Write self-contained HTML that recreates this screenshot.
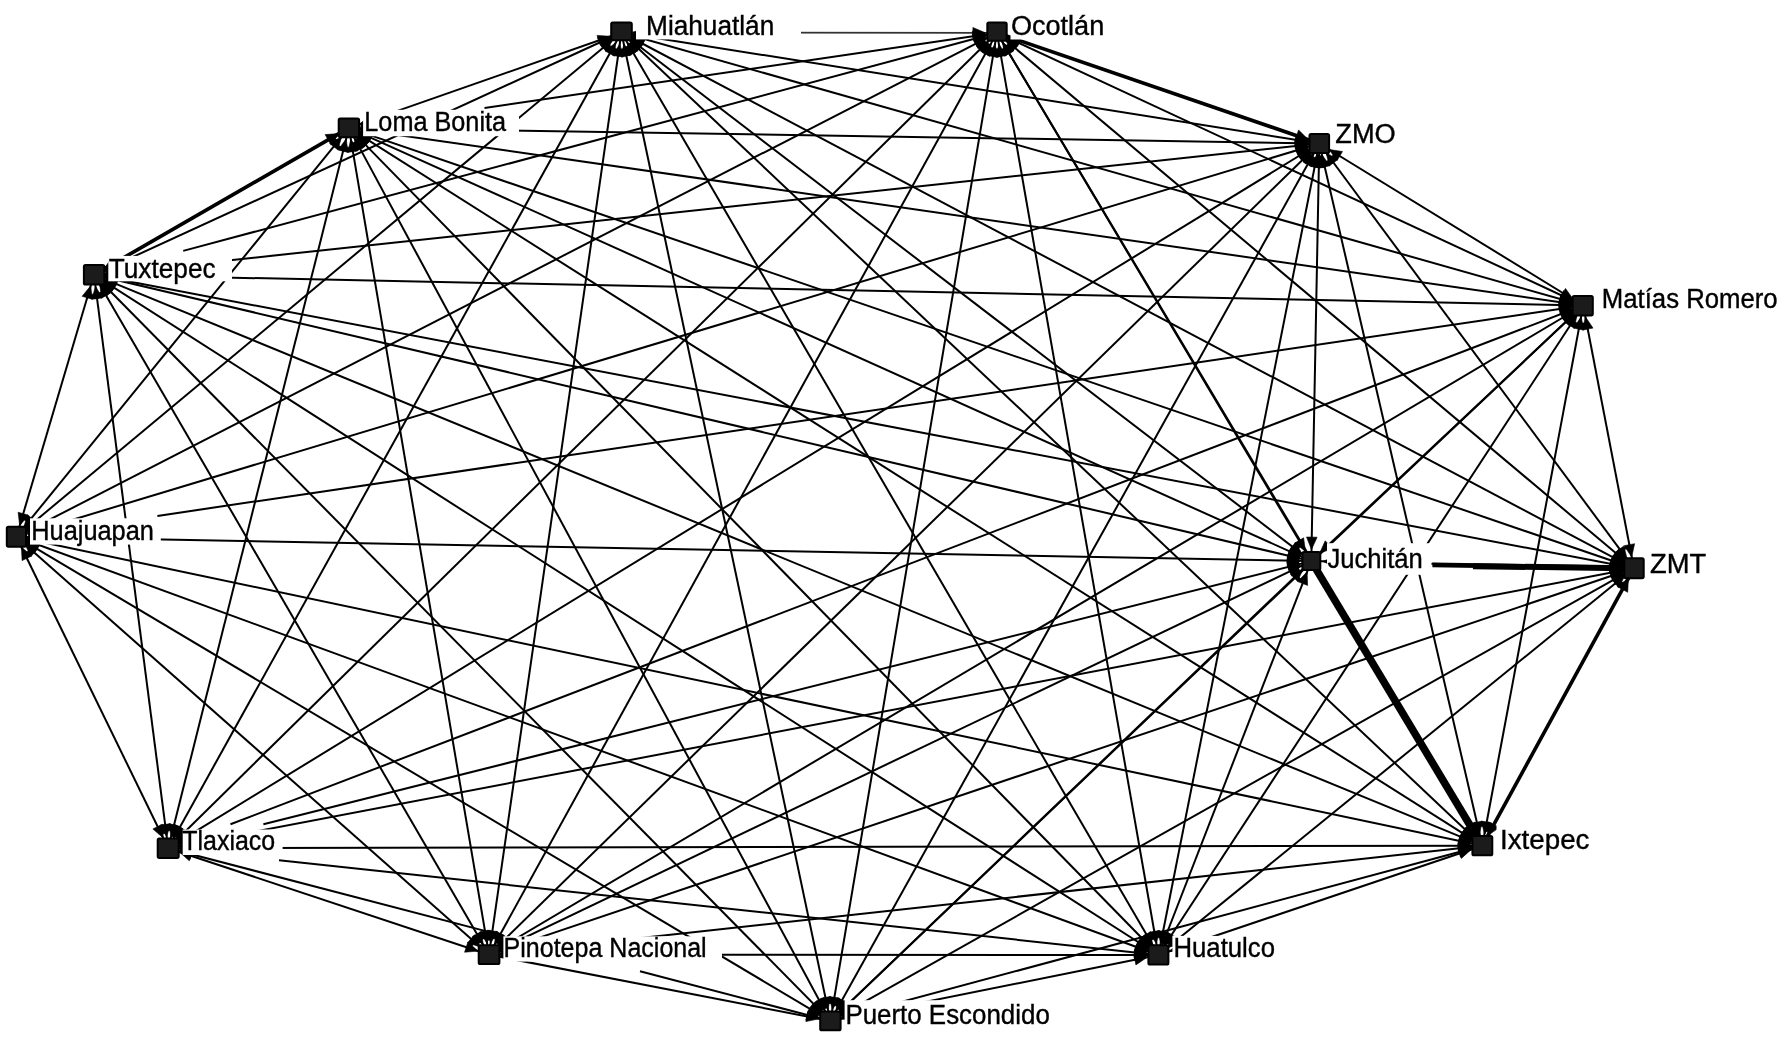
<!DOCTYPE html>
<html lang="es"><head><meta charset="utf-8"><title>Red</title>
<style>
html,body{margin:0;padding:0;background:#fff;}
body{width:1778px;height:1040px;overflow:hidden;}
svg{display:block;will-change:transform;}
text{stroke:#000;stroke-width:0.4px;font-family:"Liberation Sans",Arial,Helvetica,sans-serif;font-size:28.4px;fill:#000;}
.e{stroke:#000;stroke-width:2.0;stroke-linecap:butt;fill:none;}
.a{fill:#000;stroke:#000;stroke-width:0.6;stroke-linejoin:miter;}
.b{fill:#fff;}
.n{fill:#1b1b1b;stroke:#000;stroke-width:2;}
</style></head><body>
<svg width="1778" height="1040" viewBox="0 0 1778 1040">
<rect x="0" y="0" width="1778" height="1040" fill="#fff"/>

<g id="edges">
<line class="e" x1="621.4" y1="32.5" x2="996.9" y2="32.8" style="stroke:#333;stroke-width:1.8"/>
<line class="e" x1="621.4" y1="32.5" x2="1319.3" y2="143.5"/>
<line class="e" x1="621.4" y1="32.5" x2="1583.2" y2="305.5"/>
<line class="e" x1="621.4" y1="32.5" x2="1633.9" y2="568.3"/>
<line class="e" x1="621.4" y1="32.5" x2="1482.3" y2="845.7"/>
<line class="e" x1="621.4" y1="32.5" x2="1158.4" y2="955.0"/>
<line class="e" x1="621.4" y1="32.5" x2="830.4" y2="1021.0"/>
<line class="e" x1="621.4" y1="32.5" x2="489.0" y2="954.7"/>
<line class="e" x1="621.4" y1="32.5" x2="168.2" y2="848.2"/>
<line class="e" x1="621.4" y1="32.5" x2="16.4" y2="536.7"/>
<line class="e" x1="621.4" y1="32.5" x2="94.0" y2="274.8"/>
<line class="e" x1="621.4" y1="32.5" x2="348.9" y2="127.9"/>
<line class="e" x1="621.4" y1="32.5" x2="1311.3" y2="561.1"/>
<line class="e" x1="996.9" y1="32.8" x2="1319.3" y2="143.5" style="stroke-width:3.7"/>
<line class="e" x1="996.9" y1="32.8" x2="1583.2" y2="305.5"/>
<line class="e" x1="996.9" y1="32.8" x2="1633.9" y2="568.3"/>
<line class="e" x1="996.9" y1="32.8" x2="1482.3" y2="845.7"/>
<line class="e" x1="996.9" y1="32.8" x2="1158.4" y2="955.0"/>
<line class="e" x1="996.9" y1="32.8" x2="830.4" y2="1021.0"/>
<line class="e" x1="996.9" y1="32.8" x2="489.0" y2="954.7"/>
<line class="e" x1="996.9" y1="32.8" x2="168.2" y2="848.2"/>
<line class="e" x1="996.9" y1="32.8" x2="16.4" y2="536.7"/>
<line class="e" x1="996.9" y1="32.8" x2="183.2" y2="250.9"/>
<line class="e" x1="996.9" y1="32.8" x2="484.5" y2="108.0"/>
<line class="e" x1="996.9" y1="32.8" x2="1311.3" y2="561.1"/>
<line class="e" x1="1319.3" y1="143.5" x2="1583.2" y2="305.5"/>
<line class="e" x1="1319.3" y1="143.5" x2="1633.9" y2="568.3"/>
<line class="e" x1="1319.3" y1="143.5" x2="1482.3" y2="845.7"/>
<line class="e" x1="1319.3" y1="143.5" x2="1158.4" y2="955.0"/>
<line class="e" x1="1319.3" y1="143.5" x2="830.4" y2="1021.0"/>
<line class="e" x1="1319.3" y1="143.5" x2="489.0" y2="954.7"/>
<line class="e" x1="1319.3" y1="143.5" x2="168.2" y2="848.2"/>
<line class="e" x1="1319.3" y1="143.5" x2="16.4" y2="536.7"/>
<line class="e" x1="1319.3" y1="143.5" x2="94.0" y2="274.8"/>
<line class="e" x1="1319.3" y1="143.5" x2="348.9" y2="127.9"/>
<line class="e" x1="1319.3" y1="143.5" x2="1311.3" y2="561.1"/>
<line class="e" x1="1583.2" y1="305.5" x2="1633.9" y2="568.3"/>
<line class="e" x1="1583.2" y1="305.5" x2="1482.3" y2="845.7"/>
<line class="e" x1="1583.2" y1="305.5" x2="1158.4" y2="955.0"/>
<polyline class="e" points="830.4,1021.0 1311.85,561.68 1583.2,305.5"/>
<line class="e" x1="1583.2" y1="305.5" x2="489.0" y2="954.7"/>
<line class="e" x1="1583.2" y1="305.5" x2="230.5" y2="824.3"/>
<line class="e" x1="1583.2" y1="305.5" x2="157.4" y2="515.9"/>
<line class="e" x1="1583.2" y1="305.5" x2="94.0" y2="274.8"/>
<line class="e" x1="1583.2" y1="305.5" x2="348.9" y2="127.9"/>
<line class="e" x1="1583.2" y1="305.5" x2="1311.3" y2="561.1"/>
<line class="e" x1="1633.9" y1="568.3" x2="1482.3" y2="845.7" style="stroke-width:3.6"/>
<line class="e" x1="1633.9" y1="568.3" x2="1158.4" y2="955.0"/>
<line class="e" x1="1633.9" y1="568.3" x2="830.4" y2="1021.0"/>
<line class="e" x1="1633.9" y1="568.3" x2="489.0" y2="954.7"/>
<line class="e" x1="1633.9" y1="568.3" x2="168.2" y2="848.2"/>
<line class="e" x1="1633.9" y1="568.3" x2="94.0" y2="274.8"/>
<line class="e" x1="1633.9" y1="568.3" x2="348.9" y2="127.9"/>
<line class="e" x1="1633.9" y1="568.3" x2="1311.3" y2="561.1"/>
<line class="e" x1="1482.3" y1="845.7" x2="1158.4" y2="955.0"/>
<line class="e" x1="1482.3" y1="845.7" x2="830.4" y2="1021.0"/>
<line class="e" x1="1482.3" y1="845.7" x2="489.0" y2="954.7"/>
<line class="e" x1="1482.3" y1="845.7" x2="168.2" y2="848.2"/>
<line class="e" x1="1482.3" y1="845.7" x2="16.4" y2="536.7"/>
<line class="e" x1="1482.3" y1="845.7" x2="94.0" y2="274.8"/>
<line class="e" x1="1482.3" y1="845.7" x2="348.9" y2="127.9"/>
<line class="e" x1="1482.3" y1="845.7" x2="1311.3" y2="561.1" style="stroke-width:7.6"/>
<line class="e" x1="1158.4" y1="955.0" x2="830.4" y2="1021.0"/>
<line class="e" x1="1158.4" y1="955.0" x2="489.0" y2="954.7"/>
<line class="e" x1="1158.4" y1="955.0" x2="279.0" y2="860.2"/>
<line class="e" x1="1158.4" y1="955.0" x2="16.4" y2="536.7"/>
<line class="e" x1="1158.4" y1="955.0" x2="94.0" y2="274.8"/>
<line class="e" x1="1158.4" y1="955.0" x2="348.9" y2="127.9"/>
<line class="e" x1="1158.4" y1="955.0" x2="1311.3" y2="561.1"/>
<line class="e" x1="830.4" y1="1021.0" x2="489.0" y2="954.7"/>
<line class="e" x1="830.4" y1="1021.0" x2="640.0" y2="971.3"/>
<line class="e" x1="503.0" y1="935.6" x2="168.2" y2="848.2"/>
<line class="e" x1="830.4" y1="1021.0" x2="16.4" y2="536.7"/>
<line class="e" x1="830.4" y1="1021.0" x2="94.0" y2="274.8"/>
<line class="e" x1="830.4" y1="1021.0" x2="348.9" y2="127.9"/>
<line class="e" x1="830.4" y1="1021.0" x2="1311.3" y2="561.1"/>
<line class="e" x1="489.0" y1="954.7" x2="168.2" y2="848.2"/>
<line class="e" x1="489.0" y1="954.7" x2="16.4" y2="536.7"/>
<line class="e" x1="489.0" y1="954.7" x2="94.0" y2="274.8"/>
<line class="e" x1="489.0" y1="954.7" x2="348.9" y2="127.9"/>
<line class="e" x1="489.0" y1="954.7" x2="1311.3" y2="561.1"/>
<line class="e" x1="168.2" y1="848.2" x2="16.4" y2="536.7"/>
<line class="e" x1="168.2" y1="848.2" x2="94.0" y2="274.8"/>
<line class="e" x1="168.2" y1="848.2" x2="348.9" y2="127.9"/>
<line class="e" x1="263.4" y1="824.3" x2="1311.3" y2="561.1"/>
<line class="e" x1="16.4" y1="536.7" x2="94.0" y2="274.8"/>
<line class="e" x1="16.4" y1="536.7" x2="348.9" y2="127.9"/>
<line class="e" x1="16.4" y1="536.7" x2="1311.3" y2="561.1"/>
<line class="e" x1="94.0" y1="274.8" x2="348.9" y2="127.9" style="stroke-width:3.7"/>
<line class="e" x1="94.0" y1="274.8" x2="1311.3" y2="561.1"/>
<line class="e" x1="348.9" y1="127.9" x2="1311.3" y2="561.1"/>
<line class="e" x1="1432.4" y1="564.9" x2="1625" y2="568.0" style="stroke-width:4.9"/>
<line class="e" x1="1473" y1="566.2" x2="1625" y2="568.2" style="stroke-width:6.0"/>
</g>
<g id="arrows">
<polygon class="a" points="985.4,32.8 972.9,27.5 972.9,38.1"/>
<polygon class="a" points="1307.9,141.7 1296.4,134.5 1294.8,145.0"/>
<polygon class="a" points="1572.1,302.4 1561.6,293.8 1558.7,304.0"/>
<polygon class="a" points="1623.7,562.9 1615.2,552.4 1610.2,561.8"/>
<polygon class="a" points="1473.9,837.8 1468.5,825.4 1461.2,833.1"/>
<polygon class="a" points="1152.6,945.1 1150.9,931.6 1141.7,936.9"/>
<polygon class="a" points="828.0,1009.7 830.6,996.4 820.3,998.6"/>
<polygon class="a" points="490.6,943.3 497.7,931.7 487.2,930.2"/>
<polygon class="a" points="173.8,838.1 184.5,829.8 175.2,824.6"/>
<polygon class="a" points="25.2,529.3 38.2,525.4 31.4,517.3"/>
<polygon class="a" points="104.4,270.0 118.0,269.6 113.6,260.0"/>
<polygon class="a" points="359.8,124.1 373.3,125.0 369.8,115.0"/>
<polygon class="a" points="1302.2,554.1 1295.5,542.3 1289.0,550.7"/>
<polygon class="a" points="632.9,32.5 645.4,37.8 645.4,27.2"/>
<polygon class="a" points="1308.4,139.8 1298.6,129.9 1294.6,141.5"/>
<polygon class="a" points="1572.8,300.7 1563.7,290.6 1559.2,300.2"/>
<polygon class="a" points="1625.1,560.9 1618.9,548.8 1612.1,556.9"/>
<polygon class="a" points="1476.4,835.8 1474.5,822.4 1465.4,827.8"/>
<polygon class="a" points="1156.4,943.7 1159.5,930.4 1149.0,932.3"/>
<polygon class="a" points="832.3,1009.7 839.6,998.2 829.2,996.5"/>
<polygon class="a" points="494.5,944.6 505.2,936.2 495.9,931.1"/>
<polygon class="a" points="176.4,840.1 189.0,835.1 181.6,827.6"/>
<polygon class="a" points="26.6,531.4 40.2,530.4 35.3,521.0"/>
<polygon class="a" points="105.1,271.8 118.6,273.7 115.8,263.5"/>
<polygon class="a" points="360.3,126.2 373.4,129.7 371.9,119.2"/>
<polygon class="a" points="1305.4,551.2 1303.6,537.8 1294.5,543.2"/>
<polygon class="a" points="632.8,34.3 644.3,41.5 645.9,31.0"/>
<polygon class="a" points="1007.8,36.5 1017.6,46.4 1021.6,34.8"/>
<polygon class="a" points="1573.4,299.5 1565.5,288.4 1560.0,297.5"/>
<polygon class="a" points="1627.1,559.1 1623.9,545.9 1615.4,552.2"/>
<polygon class="a" points="1479.7,834.5 1482.0,821.1 1471.7,823.5"/>
<polygon class="a" points="1160.6,943.7 1168.3,932.5 1157.9,930.4"/>
<polygon class="a" points="836.0,1011.0 846.7,1002.6 837.5,997.5"/>
<polygon class="a" points="497.2,946.7 509.9,941.7 502.5,934.1"/>
<polygon class="a" points="178.0,842.2 191.4,840.2 185.9,831.1"/>
<polygon class="a" points="27.4,533.4 40.9,534.8 37.8,524.7"/>
<polygon class="a" points="105.4,273.6 118.4,277.5 117.3,267.0"/>
<polygon class="a" points="360.4,128.1 372.8,133.6 373.0,123.0"/>
<polygon class="a" points="1311.5,549.6 1317.1,537.2 1306.5,537.0"/>
<polygon class="a" points="632.5,35.6 643.0,44.2 645.9,34.0"/>
<polygon class="a" points="1007.3,37.6 1016.4,47.7 1020.9,38.1"/>
<polygon class="a" points="1329.1,149.5 1337.0,160.6 1342.5,151.5"/>
<polygon class="a" points="1631.7,557.0 1634.6,543.7 1624.1,545.7"/>
<polygon class="a" points="1484.4,834.4 1491.9,823.1 1481.5,821.1"/>
<polygon class="a" points="1164.7,945.4 1176.0,937.8 1167.1,932.0"/>
<polygon class="a" points="838.7,1013.1 851.4,1008.3 844.1,1000.6"/>
<polygon class="a" points="498.9,948.8 512.3,947.0 506.9,937.9"/>
<polygon class="a" points="178.9,844.1 192.5,844.6 188.7,834.7"/>
<polygon class="a" points="27.8,535.0 40.9,538.4 39.4,528.0"/>
<polygon class="a" points="105.5,275.0 117.9,280.6 118.1,270.0"/>
<polygon class="a" points="360.3,129.5 371.9,136.6 373.4,126.1"/>
<polygon class="a" points="1319.7,553.2 1332.4,548.5 1325.2,540.8"/>
<polygon class="a" points="631.6,37.9 640.1,48.4 645.1,39.0"/>
<polygon class="a" points="1005.7,40.2 1011.9,52.3 1018.7,44.2"/>
<polygon class="a" points="1326.1,152.7 1329.3,165.9 1337.8,159.6"/>
<polygon class="a" points="1585.4,316.8 1582.5,330.1 1593.0,328.1"/>
<polygon class="a" points="1487.8,835.6 1499.2,827.6 1488.5,821.7"/>
<polygon class="a" points="1167.3,947.7 1180.4,944.0 1173.7,935.7"/>
<polygon class="a" points="840.4,1015.4 853.9,1013.8 848.7,1004.6"/>
<polygon class="a" points="499.9,951.0 513.4,952.0 510.0,942.0"/>
<polygon class="a" points="179.5,846.0 192.8,848.9 190.8,838.5"/>
<polygon class="a" points="27.9,536.9 40.3,542.5 40.5,531.9"/>
<polygon class="a" points="105.3,277.0 116.6,284.5 118.6,274.1"/>
<polygon class="a" points="359.8,131.6 369.9,140.7 373.3,130.7"/>
<polygon class="a" points="1322.8,561.4 1335.2,566.9 1335.4,556.3"/>
<polygon class="a" points="629.8,40.4 635.2,52.8 642.5,45.1"/>
<polygon class="a" points="1002.8,42.7 1004.7,56.1 1013.8,50.7"/>
<polygon class="a" points="1321.9,154.7 1319.6,168.1 1329.9,165.7"/>
<polygon class="a" points="1581.1,316.8 1573.6,328.1 1584.0,330.1"/>
<polygon class="a" points="1628.4,578.4 1617.0,586.4 1627.7,592.3"/>
<polygon class="a" points="1169.3,951.3 1182.8,952.3 1179.4,942.3"/>
<polygon class="a" points="841.5,1018.0 855.0,1019.9 852.2,1009.6"/>
<polygon class="a" points="500.4,953.4 513.4,957.4 512.3,946.8"/>
<polygon class="a" points="179.7,848.2 192.2,853.5 192.2,842.9"/>
<polygon class="a" points="27.7,539.1 38.8,546.8 41.0,536.5"/>
<polygon class="a" points="104.6,279.2 114.2,288.8 118.2,279.0"/>
<polygon class="a" points="358.6,134.1 366.3,145.2 372.0,136.3"/>
<polygon class="a" points="627.2,42.4 628.9,55.9 638.1,50.6"/>
<polygon class="a" points="998.9,44.1 995.8,57.4 1006.3,55.5"/>
<polygon class="a" points="1317.1,154.8 1309.4,166.0 1319.8,168.1"/>
<polygon class="a" points="1576.9,315.1 1565.6,322.7 1574.5,328.5"/>
<polygon class="a" points="1625.0,575.6 1611.9,579.3 1618.6,587.6"/>
<polygon class="a" points="1471.4,849.4 1457.9,848.4 1461.3,858.4"/>
<polygon class="a" points="841.7,1018.7 855.0,1021.5 852.9,1011.1"/>
<polygon class="a" points="500.5,954.7 513.0,960.0 513.0,949.4"/>
<polygon class="a" points="179.6,849.4 191.5,856.0 192.6,845.5"/>
<polygon class="a" points="27.2,540.7 37.1,549.9 40.8,540.0"/>
<polygon class="a" points="103.7,281.0 111.4,292.2 117.1,283.3"/>
<polygon class="a" points="356.9,136.1 361.9,148.8 369.5,141.3"/>
<polygon class="a" points="1307.1,571.8 1297.7,581.6 1307.6,585.4"/>
<polygon class="a" points="623.8,43.8 621.2,57.1 631.5,54.9"/>
<polygon class="a" points="995.0,44.1 987.7,55.6 998.1,57.3"/>
<polygon class="a" points="1313.7,153.5 1303.0,161.9 1312.2,167.0"/>
<polygon class="a" points="1574.9,313.4 1562.2,318.2 1569.5,325.9"/>
<polygon class="a" points="1623.9,573.9 1610.4,575.5 1615.6,584.7"/>
<polygon class="a" points="1471.2,848.7 1457.7,846.8 1460.5,857.1"/>
<polygon class="a" points="1147.1,957.3 1133.8,954.5 1135.9,964.9"/>
<polygon class="a" points="179.3,851.1 190.1,859.4 192.8,849.1"/>
<polygon class="a" points="26.3,542.6 34.3,553.5 39.7,544.4"/>
<polygon class="a" points="102.1,283.0 107.1,295.6 114.6,288.2"/>
<polygon class="a" points="354.4,138.0 355.6,151.5 365.0,146.5"/>
<polygon class="a" points="1303.0,569.0 1290.3,573.9 1297.6,581.5"/>
<polygon class="a" points="619.8,43.9 612.7,55.5 623.2,57.0"/>
<polygon class="a" points="991.4,42.9 980.7,51.3 990.0,56.4"/>
<polygon class="a" points="1311.1,151.5 1298.4,156.5 1305.8,164.1"/>
<polygon class="a" points="1573.3,311.4 1559.9,313.2 1565.3,322.3"/>
<polygon class="a" points="1623.0,572.0 1609.5,571.0 1612.9,581.0"/>
<polygon class="a" points="1470.9,847.0 1457.9,843.0 1459.0,853.6"/>
<polygon class="a" points="1146.9,955.0 1134.4,949.7 1134.4,960.3"/>
<polygon class="a" points="819.1,1018.8 807.9,1011.2 805.8,1021.6"/>
<polygon class="a" points="179.1,851.8 189.3,860.8 192.6,850.7"/>
<polygon class="a" points="25.0,544.3 30.9,556.6 37.9,548.6"/>
<polygon class="a" points="99.8,284.7 101.5,298.2 110.6,292.9"/>
<polygon class="a" points="350.8,139.2 347.7,152.4 358.1,150.7"/>
<polygon class="a" points="1300.9,566.1 1287.4,566.7 1291.9,576.2"/>
<polygon class="a" points="615.8,42.6 605.1,50.9 614.4,56.1"/>
<polygon class="a" points="988.7,40.9 976.1,45.9 983.5,53.4"/>
<polygon class="a" points="1309.5,149.5 1296.1,151.5 1301.6,160.6"/>
<polygon class="a" points="1572.5,309.6 1558.9,309.1 1562.7,319.0"/>
<polygon class="a" points="1622.6,570.5 1609.3,567.6 1611.3,578.0"/>
<polygon class="a" points="1470.8,845.7 1458.3,840.4 1458.3,851.0"/>
<polygon class="a" points="1147.0,953.8 1135.1,947.2 1134.0,957.7"/>
<polygon class="a" points="819.3,1018.1 808.5,1009.8 805.8,1020.1"/>
<polygon class="a" points="478.1,951.1 467.9,942.1 464.6,952.2"/>
<polygon class="a" points="21.4,547.0 22.1,560.6 31.7,556.0"/>
<polygon class="a" points="95.5,286.2 91.8,299.3 102.3,297.9"/>
<polygon class="a" points="346.1,139.1 337.9,149.9 348.2,152.5"/>
<polygon class="a" points="1300.1,563.9 1286.7,561.8 1289.3,572.1"/>
<polygon class="a" points="612.6,39.9 599.6,43.8 606.4,51.9"/>
<polygon class="a" points="986.7,38.1 973.1,39.1 978.0,48.5"/>
<polygon class="a" points="1308.3,146.8 1294.8,145.4 1297.9,155.5"/>
<polygon class="a" points="1571.8,307.2 1558.7,303.8 1560.2,314.2"/>
<polygon class="a" points="1622.4,568.1 1610.0,562.5 1609.8,573.1"/>
<polygon class="a" points="1471.0,843.3 1459.9,835.6 1457.7,845.9"/>
<polygon class="a" points="1147.6,951.0 1137.7,941.8 1134.0,951.7"/>
<polygon class="a" points="820.5,1015.1 812.5,1004.2 807.1,1013.3"/>
<polygon class="a" points="480.4,947.1 474.5,934.8 467.5,942.8"/>
<polygon class="a" points="163.2,837.9 162.5,824.3 152.9,828.9"/>
<polygon class="a" points="90.7,285.8 82.1,296.3 92.3,299.3"/>
<polygon class="a" points="341.6,136.8 329.6,143.2 337.9,149.9"/>
<polygon class="a" points="1299.8,560.9 1287.4,555.3 1287.2,565.9"/>
<polygon class="a" points="611.0,37.3 597.4,37.7 601.8,47.3"/>
<polygon class="a" points="985.8,35.8 972.3,33.9 975.1,44.1"/>
<polygon class="a" points="1307.9,144.7 1294.9,140.8 1296.0,151.3"/>
<polygon class="a" points="1571.7,305.3 1559.3,299.7 1559.1,310.3"/>
<polygon class="a" points="1622.6,566.1 1611.3,558.6 1609.3,569.0"/>
<polygon class="a" points="1471.7,841.3 1462.1,831.7 1458.1,841.5"/>
<polygon class="a" points="1148.7,948.8 1141.0,937.6 1135.3,946.5"/>
<polygon class="a" points="822.3,1012.8 817.3,1000.2 809.8,1007.6"/>
<polygon class="a" points="483.2,944.8 481.5,931.3 472.4,936.6"/>
<polygon class="a" points="166.7,836.8 170.4,823.7 159.9,825.1"/>
<polygon class="a" points="19.7,525.7 28.3,515.2 18.1,512.2"/>
<polygon class="a" points="338.9,133.6 325.1,134.6 331.2,145.2"/>
<polygon class="a" points="1300.1,558.5 1289.2,550.4 1286.7,560.8"/>
<polygon class="a" points="610.5,36.3 597.0,35.4 600.5,45.4"/>
<polygon class="a" points="985.5,34.5 972.4,31.0 973.9,41.5"/>
<polygon class="a" points="1307.8,143.3 1295.4,137.8 1295.2,148.4"/>
<polygon class="a" points="1571.8,303.9 1560.2,296.8 1558.7,307.3"/>
<polygon class="a" points="1623.0,564.6 1612.9,555.5 1609.5,565.5"/>
<polygon class="a" points="1472.6,839.5 1464.9,828.4 1459.2,837.3"/>
<polygon class="a" points="1150.4,946.8 1145.4,934.1 1137.8,941.6"/>
<polygon class="a" points="824.9,1010.9 823.7,997.4 814.3,1002.4"/>
<polygon class="a" points="487.1,943.4 490.2,930.2 479.8,931.9"/>
<polygon class="a" points="171.0,837.0 179.2,826.2 168.9,823.6"/>
<polygon class="a" points="23.7,527.8 35.7,521.4 27.4,514.7"/>
<polygon class="a" points="104.0,269.1 117.8,268.1 111.7,257.5"/>
<polygon class="a" points="1300.8,556.4 1291.6,546.4 1287.2,556.1"/>
<polygon class="a" points="630.5,39.5 637.2,51.3 643.7,42.9"/>
<polygon class="a" points="1002.8,42.7 1004.6,56.1 1013.7,50.7"/>
<polygon class="a" points="1319.1,155.0 1313.5,167.4 1324.1,167.6"/>
<polygon class="a" points="1574.8,313.4 1562.1,318.1 1569.3,325.8"/>
<polygon class="a" points="1622.4,568.0 1610.0,562.5 1609.8,573.1"/>
<polygon class="a" points="1476.4,835.8 1475.2,822.0 1464.7,828.3"/>
<polygon class="a" points="1162.6,944.3 1172.0,934.5 1162.1,930.7"/>
<polygon class="a" points="838.7,1013.1 851.4,1008.2 844.1,1000.6"/>
<polygon class="a" points="499.4,949.7 512.9,949.1 508.4,939.6"/>
<polygon class="a" points="179.4,845.4 192.8,847.5 190.2,837.2"/>
<polygon class="a" points="27.9,536.9 40.3,542.5 40.5,531.9"/>
<polygon class="a" points="105.2,277.4 116.1,285.5 118.6,275.1"/>
<polygon class="a" points="359.4,132.6 368.6,142.6 373.0,132.9"/>
<polygon class="a" points="633.7,32.5 645.2,32.5 644.9,36.2 633.5,34.4"/>
<polygon class="a" points="633.5,34.4 644.9,36.2 644.3,39.0 633.2,35.9"/>
<polygon class="a" points="633.2,35.9 644.3,39.0 642.4,43.6 632.3,38.3"/>
<polygon class="a" points="632.3,38.3 642.4,43.6 640.3,47.0 631.2,40.0"/>
<polygon class="a" points="631.2,40.0 640.3,47.0 638.7,48.8 630.3,40.9"/>
<polygon class="a" points="631.2,41.8 638.7,48.8 633.4,53.1 628.2,44.2"/>
<polygon class="a" points="629.0,45.5 633.4,53.1 626.3,55.8 624.5,47.3"/>
<polygon class="a" points="624.8,48.8 626.3,55.8 618.0,56.1 619.0,49.0"/>
<polygon class="a" points="618.9,49.7 618.0,56.1 609.8,53.3 613.0,47.7"/>
<polygon class="a" points="612.9,47.8 609.8,53.3 603.1,47.7 607.9,43.7"/>
<polygon class="a" points="611.9,40.4 603.1,47.7 599.8,42.4 610.1,37.7"/>
<polygon class="a" points="610.2,37.6 599.8,42.4 598.9,40.4 609.8,36.6"/>
<polygon class="a" points="1008.5,36.8 1019.4,40.5 1018.5,42.8 1008.1,38.0"/>
<polygon class="a" points="1008.1,38.0 1018.5,42.8 1015.1,48.1 1006.4,40.8"/>
<polygon class="a" points="1009.0,43.0 1015.1,48.1 1009.1,53.2 1005.0,46.4"/>
<polygon class="a" points="1003.2,43.4 1009.1,53.2 1009.1,53.3 1003.2,43.4"/>
<polygon class="a" points="1005.7,47.7 1009.1,53.3 1001.0,56.2 999.9,49.8"/>
<polygon class="a" points="999.7,48.7 1001.0,56.2 992.9,56.3 994.2,48.7"/>
<polygon class="a" points="994.2,48.5 992.9,56.3 985.4,53.6 989.2,46.8"/>
<polygon class="a" points="990.3,44.8 985.4,53.6 979.9,49.5 987.1,42.4"/>
<polygon class="a" points="986.7,42.8 979.9,49.5 975.7,43.7 984.2,39.3"/>
<polygon class="a" points="986.0,38.4 975.7,43.7 973.9,39.0 985.0,36.0"/>
<polygon class="a" points="985.0,36.0 973.9,39.0 973.4,36.3 984.7,34.6"/>
<polygon class="a" points="984.7,34.6 973.4,36.3 973.1,32.8 984.6,32.8"/>
<polygon class="a" points="1307.0,143.3 1295.5,143.1 1295.8,139.8 1307.2,141.6"/>
<polygon class="a" points="1307.2,141.6 1295.8,139.8 1296.8,135.8 1307.7,139.5"/>
<polygon class="a" points="1334.8,153.0 1339.6,156.0 1333.5,162.6 1330.2,158.2"/>
<polygon class="a" points="1330.9,159.2 1333.5,162.6 1324.7,166.7 1323.7,162.5"/>
<polygon class="a" points="1322.1,155.5 1324.7,166.7 1318.8,167.3 1319.1,155.8"/>
<polygon class="a" points="1319.1,155.8 1318.8,167.3 1314.7,166.8 1316.9,155.6"/>
<polygon class="a" points="1316.4,158.0 1314.7,166.8 1307.7,164.3 1312.1,156.4"/>
<polygon class="a" points="1312.7,155.4 1307.7,164.3 1302.3,160.1 1309.6,153.0"/>
<polygon class="a" points="1310.5,152.1 1302.3,160.1 1299.0,155.9 1308.8,149.9"/>
<polygon class="a" points="1308.8,149.9 1299.0,155.9 1296.5,150.4 1307.5,147.1"/>
<polygon class="a" points="1307.5,147.1 1296.5,150.4 1295.6,146.0 1307.1,144.8"/>
<polygon class="a" points="1307.1,144.8 1295.6,146.0 1295.5,143.1 1307.0,143.3"/>
<polygon class="a" points="1570.9,305.2 1559.4,305.0 1559.6,302.1 1571.0,303.7"/>
<polygon class="a" points="1571.0,303.7 1559.6,302.1 1560.3,299.0 1571.4,302.1"/>
<polygon class="a" points="1571.4,302.1 1560.3,299.0 1561.6,295.5 1572.0,300.3"/>
<polygon class="a" points="1572.0,300.3 1561.6,295.5 1562.9,293.0 1572.7,299.1"/>
<polygon class="a" points="1586.6,323.0 1587.7,328.9 1578.8,328.9 1579.9,323.1"/>
<polygon class="a" points="1579.7,324.0 1578.8,328.9 1570.2,325.4 1572.9,321.2"/>
<polygon class="a" points="1576.5,315.8 1570.2,325.4 1565.9,321.9 1574.3,314.0"/>
<polygon class="a" points="1574.3,314.0 1565.9,321.9 1565.9,321.8 1574.2,313.9"/>
<polygon class="a" points="1574.2,313.9 1565.9,321.8 1562.7,317.6 1572.6,311.8"/>
<polygon class="a" points="1572.6,311.8 1562.7,317.6 1561.0,314.0 1571.7,309.9"/>
<polygon class="a" points="1571.7,309.9 1561.0,314.0 1559.7,309.0 1571.0,307.3"/>
<polygon class="a" points="1571.0,307.3 1559.7,309.0 1559.4,305.0 1570.9,305.2"/>
<polygon class="a" points="1621.6,568.1 1610.1,567.8 1610.1,567.8 1621.6,568.0"/>
<polygon class="a" points="1621.6,568.0 1610.1,567.8 1610.5,563.8 1621.8,566.0"/>
<polygon class="a" points="1621.8,566.0 1610.5,563.8 1611.4,560.6 1622.3,564.3"/>
<polygon class="a" points="1622.3,564.3 1611.4,560.6 1612.9,557.2 1623.0,562.5"/>
<polygon class="a" points="1623.0,562.5 1612.9,557.2 1615.7,553.0 1624.5,560.4"/>
<polygon class="a" points="1624.5,560.4 1615.7,553.0 1619.7,549.2 1626.6,558.4"/>
<polygon class="a" points="1621.2,551.1 1619.7,549.2 1629.4,544.9 1629.9,547.3"/>
<polygon class="a" points="1625.0,584.5 1622.5,589.2 1615.4,583.3 1619.6,580.0"/>
<polygon class="a" points="1624.4,576.1 1615.4,583.3 1613.2,580.0 1623.2,574.3"/>
<polygon class="a" points="1623.2,574.3 1613.2,580.0 1611.3,575.9 1622.2,572.2"/>
<polygon class="a" points="1622.2,572.2 1611.3,575.9 1610.5,572.8 1621.8,570.6"/>
<polygon class="a" points="1621.8,570.6 1610.5,572.8 1610.1,567.8 1621.6,568.1"/>
<polygon class="a" points="1470.3,843.2 1459.0,840.8 1460.3,836.6 1470.9,841.0"/>
<polygon class="a" points="1470.9,841.0 1460.3,836.6 1462.2,833.0 1471.9,839.1"/>
<polygon class="a" points="1471.9,839.1 1462.2,833.0 1465.0,829.4 1473.4,837.3"/>
<polygon class="a" points="1473.0,836.9 1465.0,829.4 1470.0,825.3 1475.7,834.7"/>
<polygon class="a" points="1476.0,835.2 1470.0,825.3 1470.1,825.3 1476.0,835.1"/>
<polygon class="a" points="1474.8,833.1 1470.1,825.3 1476.9,822.5 1479.0,831.4"/>
<polygon class="a" points="1477.8,826.5 1476.9,822.5 1486.7,822.3 1485.9,826.3"/>
<polygon class="a" points="1485.0,831.0 1486.7,822.3 1493.7,824.8 1489.5,832.6"/>
<polygon class="a" points="1470.6,849.6 1459.7,853.3 1459.3,851.9 1470.4,848.9"/>
<polygon class="a" points="1470.4,848.9 1459.3,851.9 1458.6,848.3 1470.1,847.0"/>
<polygon class="a" points="1470.1,847.0 1458.6,848.3 1458.5,845.7 1470.0,845.7"/>
<polygon class="a" points="1470.0,845.7 1458.5,845.7 1459.0,840.8 1470.3,843.2"/>
<polygon class="a" points="1146.1,955.0 1134.6,955.0 1134.7,952.4 1146.2,953.7"/>
<polygon class="a" points="1146.2,953.7 1134.7,952.4 1136.1,946.8 1146.9,950.8"/>
<polygon class="a" points="1146.9,950.8 1136.1,946.8 1138.3,942.2 1148.0,948.4"/>
<polygon class="a" points="1148.0,948.4 1138.3,942.2 1141.8,938.0 1149.8,946.2"/>
<polygon class="a" points="1149.8,946.2 1141.8,938.0 1146.4,934.4 1152.2,944.4"/>
<polygon class="a" points="1149.9,940.5 1146.4,934.4 1154.3,931.6 1155.5,938.4"/>
<polygon class="a" points="1155.4,937.7 1154.3,931.6 1163.0,931.7 1161.8,937.8"/>
<polygon class="a" points="1160.8,942.9 1163.0,931.7 1167.0,932.8 1162.9,943.5"/>
<polygon class="a" points="1162.9,943.5 1167.0,932.8 1171.4,935.1 1165.1,944.7"/>
<polygon class="a" points="1166.4,942.8 1171.4,935.1 1176.9,940.0 1169.7,945.8"/>
<polygon class="a" points="1171.6,944.3 1176.9,940.0 1181.0,947.4 1174.5,949.6"/>
<polygon class="a" points="1146.3,957.4 1135.1,959.7 1134.6,955.0 1146.1,955.0"/>
<polygon class="a" points="818.3,1018.7 807.0,1016.5 807.4,1015.0 818.5,1017.9"/>
<polygon class="a" points="817.6,1017.7 807.4,1015.0 809.9,1008.8 819.0,1014.2"/>
<polygon class="a" points="819.8,1014.7 809.9,1008.8 813.7,1004.1 821.8,1012.2"/>
<polygon class="a" points="821.0,1011.5 813.7,1004.1 819.1,1000.1 824.0,1009.2"/>
<polygon class="a" points="824.0,1009.1 819.1,1000.1 825.5,997.7 827.6,1007.8"/>
<polygon class="a" points="826.7,1003.5 825.5,997.7 834.4,997.5 833.4,1003.4"/>
<polygon class="a" points="833.1,1005.0 834.4,997.5 842.0,1000.2 838.3,1006.8"/>
<polygon class="a" points="837.3,1008.6 842.0,1000.2 847.6,1004.6 840.6,1011.2"/>
<polygon class="a" points="839.3,1012.5 847.6,1004.6 847.7,1004.6 839.3,1012.5"/>
<polygon class="a" points="839.3,1012.5 847.7,1004.6 851.1,1009.3 841.1,1015.0"/>
<polygon class="a" points="841.1,1015.0 851.1,1009.3 853.4,1014.8 842.3,1017.8"/>
<polygon class="a" points="842.3,1017.8 853.4,1014.8 853.7,1016.3 842.5,1018.6"/>
<polygon class="a" points="470.7,948.6 466.4,947.2 471.2,938.9 474.6,941.9"/>
<polygon class="a" points="477.6,944.7 471.2,938.9 477.0,934.1 481.4,941.6"/>
<polygon class="a" points="480.4,940.0 477.0,934.1 485.0,931.2 486.2,937.9"/>
<polygon class="a" points="486.5,940.2 485.0,931.2 492.4,931.1 491.1,940.2"/>
<polygon class="a" points="491.4,937.7 492.4,931.1 500.5,933.9 497.3,939.7"/>
<polygon class="a" points="495.7,942.6 500.5,933.9 506.0,938.1 498.9,945.0"/>
<polygon class="a" points="497.8,946.1 506.0,938.1 509.5,942.6 499.6,948.4"/>
<polygon class="a" points="499.6,948.4 509.5,942.6 510.5,944.4 500.1,949.4"/>
<polygon class="a" points="500.1,949.4 510.5,944.4 511.6,947.1 500.7,950.8"/>
<polygon class="a" points="500.7,950.8 511.6,947.1 512.7,952.1 501.2,953.4"/>
<polygon class="a" points="501.2,953.4 512.7,952.1 512.8,954.7 501.3,954.7"/>
<polygon class="a" points="501.3,954.7 512.8,954.7 512.4,959.2 501.1,957.0"/>
<polygon class="a" points="161.5,834.4 157.8,826.8 165.1,824.6 166.2,832.9"/>
<polygon class="a" points="165.9,830.5 165.1,824.6 174.0,825.1 172.5,830.9"/>
<polygon class="a" points="171.2,836.3 174.0,825.1 179.8,827.4 174.2,837.4"/>
<polygon class="a" points="174.8,836.4 179.8,827.4 185.2,831.5 177.8,838.7"/>
<polygon class="a" points="177.0,839.6 185.2,831.5 188.5,835.8 178.7,841.8"/>
<polygon class="a" points="178.7,841.8 188.5,835.8 190.4,839.7 179.7,843.8"/>
<polygon class="a" points="179.7,843.8 190.4,839.7 191.3,842.4 180.1,845.2"/>
<polygon class="a" points="180.1,845.2 191.3,842.4 191.6,843.7 180.3,845.9"/>
<polygon class="a" points="180.3,845.9 191.6,843.7 192.0,848.2 180.5,848.2"/>
<polygon class="a" points="180.5,848.2 192.0,848.2 191.9,850.8 180.4,849.5"/>
<polygon class="a" points="180.4,849.5 191.9,850.8 191.2,854.2 180.1,851.3"/>
<polygon class="a" points="180.1,851.3 191.2,854.2 190.8,855.7 179.9,852.1"/>
<polygon class="a" points="21.7,518.7 23.2,513.9 31.4,518.2 28.3,522.1"/>
<polygon class="a" points="24.2,527.2 31.4,518.2 34.7,521.5 25.8,528.8"/>
<polygon class="a" points="25.8,528.8 34.7,521.5 37.6,525.8 27.3,531.1"/>
<polygon class="a" points="27.3,531.1 37.6,525.8 39.2,529.8 28.2,533.1"/>
<polygon class="a" points="28.2,533.1 39.2,529.8 39.9,533.2 28.6,534.9"/>
<polygon class="a" points="28.6,534.9 39.9,533.2 40.2,537.1 28.7,536.9"/>
<polygon class="a" points="28.7,536.9 40.2,537.2 39.7,541.6 28.4,539.2"/>
<polygon class="a" points="28.4,539.2 39.7,541.6 38.7,544.9 27.9,540.9"/>
<polygon class="a" points="27.9,540.9 38.7,544.9 36.9,548.9 27.0,543.0"/>
<polygon class="a" points="27.0,543.0 36.9,548.9 34.2,552.5 25.6,544.8"/>
<polygon class="a" points="30.4,549.1 34.2,552.5 26.8,558.1 24.6,553.5"/>
<polygon class="a" points="104.7,268.7 114.6,262.9 115.6,264.9 105.2,269.7"/>
<polygon class="a" points="105.2,269.7 115.6,264.9 117.0,268.6 105.9,271.6"/>
<polygon class="a" points="105.9,271.6 117.0,268.6 117.7,272.3 106.2,273.5"/>
<polygon class="a" points="106.2,273.5 117.7,272.3 117.8,275.3 106.3,275.1"/>
<polygon class="a" points="106.3,275.1 117.8,275.3 117.4,279.3 106.1,277.1"/>
<polygon class="a" points="106.1,277.1 117.4,279.3 117.2,280.2 106.0,277.6"/>
<polygon class="a" points="106.0,277.6 117.2,280.2 116.0,283.9 105.4,279.5"/>
<polygon class="a" points="105.4,279.5 116.0,283.9 114.1,287.6 104.4,281.4"/>
<polygon class="a" points="104.4,281.4 114.1,287.6 110.7,291.7 102.6,283.6"/>
<polygon class="a" points="102.6,283.6 110.7,291.7 106.0,295.4 100.2,285.4"/>
<polygon class="a" points="103.5,291.2 106.0,295.4 97.1,298.4 96.4,293.6"/>
<polygon class="a" points="96.6,294.5 97.1,298.4 87.2,297.6 88.3,293.9"/>
<polygon class="a" points="360.5,123.8 371.4,120.0 372.4,124.4 361.1,126.1"/>
<polygon class="a" points="361.1,126.1 372.4,124.4 372.7,128.3 361.2,128.1"/>
<polygon class="a" points="361.2,128.1 372.7,128.3 372.5,131.3 361.1,129.7"/>
<polygon class="a" points="361.1,129.7 372.5,131.3 371.4,135.6 360.5,131.9"/>
<polygon class="a" points="360.5,131.9 371.4,135.6 370.6,137.7 360.1,132.9"/>
<polygon class="a" points="360.1,132.9 370.6,137.7 369.0,140.6 359.3,134.5"/>
<polygon class="a" points="359.3,134.5 369.0,140.6 365.5,144.9 357.5,136.7"/>
<polygon class="a" points="358.1,137.3 365.5,144.9 360.2,148.8 355.2,139.5"/>
<polygon class="a" points="356.2,141.5 360.2,148.8 352.9,151.4 351.5,143.2"/>
<polygon class="a" points="352.2,147.4 352.9,151.4 343.1,151.0 344.1,147.1"/>
<polygon class="a" points="343.8,148.2 343.1,151.0 333.9,146.4 335.7,144.1"/>
<polygon class="a" points="337.9,141.4 333.9,146.4 328.3,139.8 333.9,136.6"/>
<polygon class="a" points="1299.0,560.9 1287.5,560.7 1288.1,555.7 1299.3,558.3"/>
<polygon class="a" points="1299.3,558.3 1288.1,555.7 1289.6,551.3 1300.1,556.1"/>
<polygon class="a" points="1300.1,556.1 1289.6,551.3 1292.4,546.6 1301.5,553.6"/>
<polygon class="a" points="1296.9,550.1 1292.4,546.6 1299.1,540.6 1302.0,545.5"/>
<polygon class="a" points="1303.7,580.6 1302.7,583.3 1294.1,577.5 1296.2,575.6"/>
<polygon class="a" points="1300.5,571.5 1294.1,577.5 1289.8,571.4 1297.8,567.6"/>
<polygon class="a" points="1300.2,566.4 1289.8,571.4 1288.2,566.9 1299.4,564.1"/>
<polygon class="a" points="1299.2,564.1 1288.2,566.9 1287.5,560.7 1298.8,560.9"/>
</g>
<g id="labelbg">
<rect class="b" x="636" y="10" width="165.0" height="29.4"/>
<rect class="b" x="1010.5" y="10" width="99.5" height="29.5"/>
<rect class="b" x="1333" y="119" width="69.0" height="28.5"/>
<rect class="b" x="1597" y="285" width="181.0" height="28.0"/>
<rect class="b" x="1647.5" y="549" width="64.5" height="28.5"/>
<rect class="b" x="1496.5" y="826" width="97.5" height="28.0"/>
<rect class="b" x="1172.4" y="935.9" width="109.6" height="26.1"/>
<rect class="b" x="844.6" y="1000.2" width="213.4" height="28.8"/>
<rect class="b" x="503.4" y="936.3" width="218.6" height="25.3"/>
<rect class="b" x="182.7" y="829.5" width="99.9" height="25.5"/>
<rect class="b" x="30" y="518.3" width="130.8" height="26.3"/>
<rect class="b" x="108.3" y="255.9" width="123.7" height="25.4"/>
<rect class="b" x="363.1" y="109.8" width="155.9" height="26.4"/>
<rect class="b" x="1327" y="543.2" width="104.5" height="31.6"/>
</g>
<g id="nodes">
<rect class="n" x="611.2" y="22.4" width="20.6" height="17.8" rx="1.6" ry="1.6"/>
<rect class="n" x="987.3" y="22.6" width="19.4" height="18.1" rx="1.6" ry="1.6"/>
<rect class="n" x="1309.5" y="133.9" width="19.6" height="19.1" rx="1.6" ry="1.6"/>
<rect class="n" x="1572.6" y="296.0" width="20.2" height="19.4" rx="1.6" ry="1.6"/>
<rect class="n" x="1624.3" y="558.3" width="19.4" height="19.9" rx="1.6" ry="1.6"/>
<rect class="n" x="1472.4" y="836.0" width="19.9" height="19.3" rx="1.6" ry="1.6"/>
<rect class="n" x="1148.4" y="945.3" width="20.0" height="19.2" rx="1.6" ry="1.6"/>
<rect class="n" x="820.2" y="1011.5" width="20.4" height="18.8" rx="1.6" ry="1.6"/>
<rect class="n" x="478.7" y="945.3" width="20.7" height="18.7" rx="1.6" ry="1.6"/>
<rect class="n" x="157.7" y="838.5" width="21.0" height="19.4" rx="1.6" ry="1.6"/>
<rect class="n" x="6.8" y="526.8" width="19.2" height="19.9" rx="1.6" ry="1.6"/>
<rect class="n" x="83.9" y="265.0" width="20.4" height="19.5" rx="1.6" ry="1.6"/>
<rect class="n" x="338.7" y="118.5" width="20.4" height="18.7" rx="1.6" ry="1.6"/>
<rect class="n" x="1302.4" y="552.1" width="17.9" height="18.0" rx="1.6" ry="1.6"/>
</g>
<g id="labels">
<text x="646.10" y="34.8" textLength="128.13" lengthAdjust="spacingAndGlyphs">Miahuatlán</text>
<text x="1010.90" y="35.0" textLength="93.34" lengthAdjust="spacingAndGlyphs">Ocotlán</text>
<text x="1335.30" y="143.1" textLength="60.41" lengthAdjust="spacingAndGlyphs">ZMO</text>
<text x="1601.80" y="308.2" textLength="175.83" lengthAdjust="spacingAndGlyphs">Matías Romero</text>
<text x="1650.00" y="572.6" textLength="56.20" lengthAdjust="spacingAndGlyphs">ZMT</text>
<text x="1500.00" y="849.0" textLength="89.46" lengthAdjust="spacingAndGlyphs">Ixtepec</text>
<text x="1173.50" y="956.8" textLength="101.50" lengthAdjust="spacingAndGlyphs">Huatulco</text>
<text x="845.40" y="1024.0" textLength="204.41" lengthAdjust="spacingAndGlyphs">Puerto Escondido</text>
<text x="503.60" y="956.8" textLength="203.10" lengthAdjust="spacingAndGlyphs">Pinotepa Nacional</text>
<text x="182.30" y="850.4" textLength="92.94" lengthAdjust="spacingAndGlyphs">Tlaxiaco</text>
<text x="31.30" y="540.1" textLength="122.61" lengthAdjust="spacingAndGlyphs">Huajuapan</text>
<text x="108.70" y="277.5" textLength="106.93" lengthAdjust="spacingAndGlyphs">Tuxtepec</text>
<text x="364.30" y="130.9" textLength="141.79" lengthAdjust="spacingAndGlyphs">Loma Bonita</text>
<text x="1327.50" y="567.5" textLength="95.30" lengthAdjust="spacingAndGlyphs">Juchitán</text>
</g>
</svg></body></html>
